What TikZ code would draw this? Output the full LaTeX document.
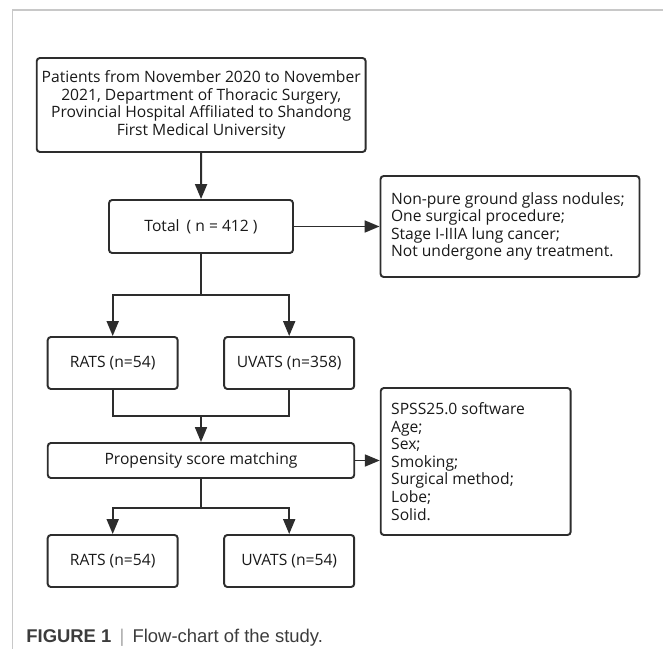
\documentclass[tikz,border=0pt]{standalone}
\usepackage{fontspec}
\setmainfont{Open Sans}
\newfontfamily\capfont{Liberation Sans}
\usetikzlibrary{arrows.meta,positioning}
\definecolor{lnclr}{RGB}{45,45,45}
\definecolor{frameclr}{RGB}{200,200,200}
\definecolor{txtclr}{RGB}{25,25,25}
\definecolor{capclr}{RGB}{60,60,60}
\tikzset{
  flowbox/.style={draw=lnclr, line width=1.1pt, rounded corners=1.8pt, text=txtclr,
    font=\fontsize{8.9}{10}\selectfont, align=center, inner sep=0pt},
  listbox/.style={flowbox, align=flush left},
  flowarr/.style={draw=lnclr, line width=1.1pt, -{Triangle[length=8.5pt,width=6.8pt]}},
  flowln/.style={draw=lnclr, line width=1.1pt},
}

\begin{document}
\begin{tikzpicture}[x=0.02cm, y=-0.02cm]
\useasboundingbox (0,0) rectangle (663,649);
% Frame (cut off at right and bottom)
\draw[frameclr, line width=0.7pt] (12.5,649) -- (12.5,10) -- (663,10);
% Source of patients
\node[flowbox, minimum width=6.58cm, minimum height=1.88cm] (src) at (201.2,105)
  {Patients from November 2020 to November\\2021, Department of Thoracic Surgery,\\Provincial Hospital Affiliated to Shandong\\First Medical University};
% Total and inclusion criteria
\node[flowbox, minimum width=3.68cm, minimum height=1.06cm] (total) at (201,226.5) {Total\hspace{4pt}( n = 412 )};
\node[listbox, minimum width=5.18cm, minimum height=2.02cm, text width=4.76cm] (crit) at (510,226.5)
  {Non-pure ground glass nodules;\\One surgical procedure;\\Stage I-IIIA lung cancer;\\Not undergone any treatment.};
% Groups before matching
\node[flowbox, minimum width=2.6cm, minimum height=1.04cm] (rats1) at (112.7,363) {RATS (n=54)};
\node[flowbox, minimum width=2.6cm, minimum height=1.04cm] (uvats1) at (289.2,363) {UVATS (n=358)};
% Matching
\node[flowbox, minimum width=6.13cm, minimum height=0.7cm] (psm) at (201,460.5) {Propensity score matching};
\node[listbox, minimum width=3.8cm, minimum height=2.94cm, text width=3.38cm] (spss) at (475.7,461.5)
  {SPSS25.0 software\\Age;\\Sex;\\Smoking;\\Surgical method;\\Lobe;\\Solid.};
% Groups after matching
\node[flowbox, minimum width=2.6cm, minimum height=1.04cm] (rats2) at (112.7,561) {RATS (n=54)};
\node[flowbox, minimum width=2.6cm, minimum height=1.04cm] (uvats2) at (289.2,561) {UVATS (n=54)};
% Connectors
\coordinate (split1) at (201,295);
\coordinate (join1) at (201,416);
\coordinate (split2) at (201,508);
\draw[flowarr] (src) -- (total);
\draw[flowarr] (total.east) -- (total.east -| crit.west);
\draw[flowln] (total) -- (split1);
\foreach \grp in {rats1, uvats1} {
  \draw[flowarr] (split1) -| (\grp);
}
\draw[flowln] (rats1.south) |- (join1) -| (uvats1.south);
\draw[flowarr] (join1) -- (psm);
\draw[flowarr] (psm.east) -- (psm.east -| spss.west);
\draw[flowln] (psm) -- (split2);
\foreach \grp in {rats2, uvats2} {
  \draw[flowarr] (split2) -| (\grp);
}
% Caption
\node[anchor=base west, inner sep=0pt, text=capclr, font=\capfont\fontsize{10.5}{12}\selectfont] (cap) at (26,642)
  {\textbf{FIGURE 1}\, \textcolor{gray!70}{|}\, Flow-chart of the study.};
\end{tikzpicture}
\end{document}
